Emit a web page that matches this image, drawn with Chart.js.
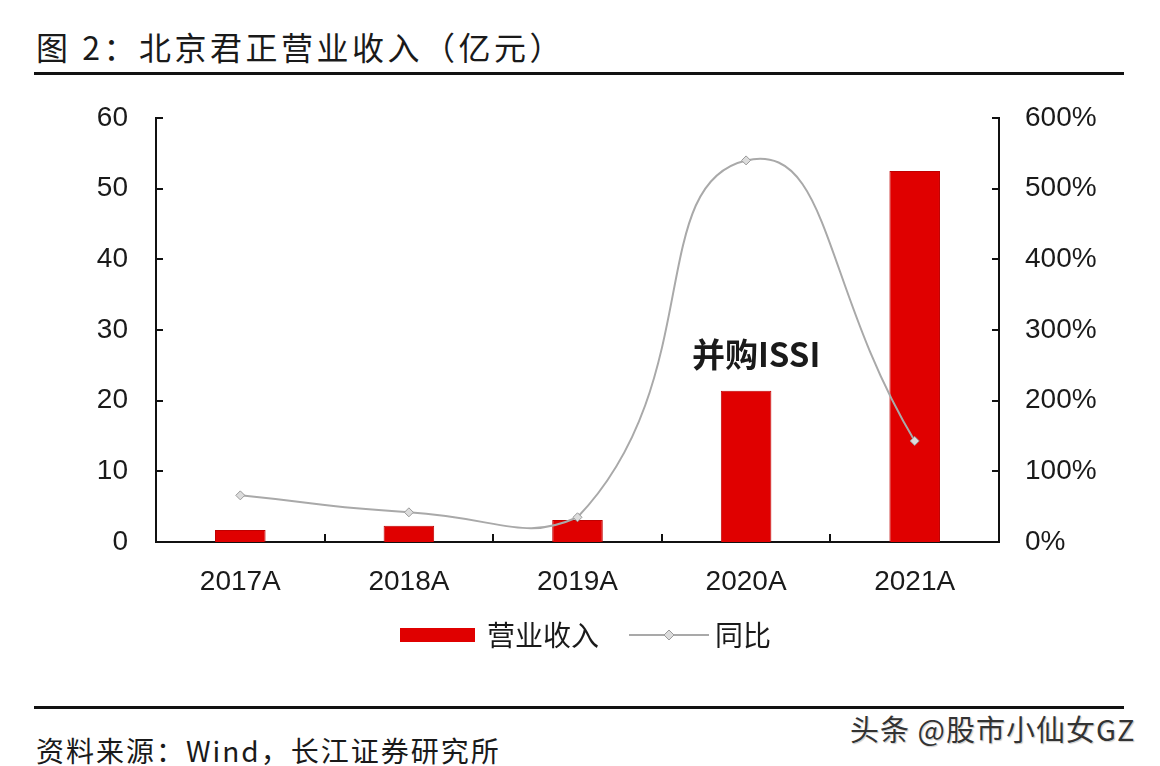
<!DOCTYPE html>
<html lang="zh">
<head>
<meta charset="UTF-8">
<title>北京君正营业收入</title>
<script src="https://cdn.jsdelivr.net/npm/chart.js@4.4.0/dist/chart.umd.min.js"></script>
<style>
    body{ margin:0; background:#fff; width:1160px; height:766px; position:relative; overflow:hidden;
          font-family:"Noto Sans CJK SC","Liberation Sans",sans-serif; color:#1a1a1a; }
    #title{ position:absolute; left:36px; top:24px; font-size:32px; line-height:44px; letter-spacing:3.5px; white-space:pre; }
    .rule{ position:absolute; left:34px; width:1090px; height:3px; background:#111; }
    #board{ position:absolute; left:0; top:90px; width:1160px; height:590px; }
    #source{ position:absolute; left:36px; top:730px; font-size:28px; line-height:40px; letter-spacing:2px; white-space:pre; }
    #mark{ position:absolute; left:850px; top:710px; font-size:29px; line-height:36px; letter-spacing:1px; color:#333;
           text-shadow:0 0 2px #fff, 1px 1px 1px #bbb; white-space:pre; }
</style>
</head>
<body>
<div id="title">图 2：北京君正营业收入（亿元）</div>
<div class="rule" style="top:72px"></div>
<div id="board"><canvas id="chart1"></canvas></div>
<div class="rule" style="top:706px"></div>
<div id="source">资料来源：Wind，长江证券研究所</div>
<div id="mark">头条 @股市小仙女GZ</div>
<script>
    const years = ['2017A','2018A','2019A','2020A','2021A'];
    const revenue = [1.7, 2.3, 3.1, 21.4, 52.5];      // 营业收入（亿元）
    const yoy = [66, 42, 35, 540, 143];               // 同比（%）
    const leftTicks = [0,10,20,30,40,50,60];
    const rightTicks = [0,100,200,300,400,500,600];
    const note = '并购ISSI';

    const numFont = {family:"'Liberation Sans','Noto Sans CJK SC',sans-serif", size:28};
    const cnFont = "'Noto Sans CJK SC','Liberation Sans',sans-serif";

    // 刻度线朝内画
    const innerTicks = {
        id:'innerTicks',
        afterDatasetsDraw(chart){
            const c = chart.ctx, a = chart.chartArea, s = chart.scales;
            c.save();
            c.strokeStyle = '#111'; c.lineWidth = 2;
            c.beginPath();
            s.y.ticks.forEach((t,i)=>{ const p = Math.round(s.y.getPixelForTick(i)); c.moveTo(a.left, p); c.lineTo(a.left+7, p); });
            s.y1.ticks.forEach((t,i)=>{ const p = Math.round(s.y1.getPixelForTick(i)); c.moveTo(a.right, p); c.lineTo(a.right-7, p); });
            for(let i=0;i<years.length-1;i++){
                const p = Math.round((s.x.getPixelForValue(i)+s.x.getPixelForValue(i+1))/2);
                c.moveTo(p, a.bottom); c.lineTo(p, a.bottom-8);
            }
            c.stroke();
            // 注释文字
            c.fillStyle = '#1a1a1a';
            c.font = 'bold 33px ' + cnFont;
            c.textAlign = 'center'; c.textBaseline = 'middle';
            c.fillText(note, s.x.getPixelForValue(3)+10, s.y.getPixelForValue(26.5));
            c.restore();
        }
    };

    // 底部图例
    const bottomLegend = {
        id:'bottomLegend',
        afterDraw(chart){
            const c = chart.ctx, ds = chart.data.datasets;
            const cy = chart.chartArea.bottom + 93;
            let x = 400;
            c.save();
            c.font = '28px ' + cnFont;
            c.textBaseline = 'middle';
            // bar
            c.fillStyle = ds[1].backgroundColor;
            c.fillRect(x, cy-7, 75, 14);
            c.fillStyle = '#1a1a1a';
            c.fillText(ds[1].label, x+87, cy);
            x = x + 87 + c.measureText(ds[1].label).width + 30;
            // line
            c.strokeStyle = ds[0].borderColor; c.lineWidth = 2;
            c.beginPath(); c.moveTo(x, cy); c.lineTo(x+80, cy); c.stroke();
            c.fillStyle = ds[0].pointBackgroundColor; c.strokeStyle = ds[0].pointBorderColor; c.lineWidth = 1;
            c.beginPath(); c.moveTo(x+40, cy-5); c.lineTo(x+45, cy); c.lineTo(x+40, cy+5); c.lineTo(x+35, cy); c.closePath();
            c.fill(); c.stroke();
            c.fillStyle = '#1a1a1a';
            c.fillText(ds[0].label, x+86, cy);
            c.restore();
        }
    };

    const ctx = document.getElementById('chart1').getContext('2d');
    new Chart(ctx,{
        data:{
            labels:years,
            datasets:[{
                type:'line',
                label:'同比',
                data:yoy,
                yAxisID:'y1',
                borderColor:'#a9a9a9',
                borderWidth:2,
                tension:0.55,
                pointStyle:'rectRot',
                pointRadius:4.5,
                pointBackgroundColor:'#dcdcdc',
                pointBorderColor:'#9a9a9a',
                pointBorderWidth:1,
                order:0
            },{
                type:'bar',
                label:'营业收入',
                data:revenue,
                yAxisID:'y',
                backgroundColor:'#e00000',
                borderColor:'#c00000',
                borderWidth:1,
                barPercentage:0.3,
                categoryPercentage:1,
                order:1
            }]
        },
        options:{
            responsive:true,
            maintainAspectRatio:false,
            animation:false,
            layout:{ padding:{top:28, left:0, right:0, bottom:0} },
            plugins:{ legend:{display:false}, tooltip:{enabled:false} },
            scales:{
                x:{
                    grid:{display:false},
                    border:{display:true, color:'#111', width:2},
                    ticks:{color:'#1a1a1a', font:numFont, padding:15, maxRotation:0},
                    afterFit(s){ s.height = 138; s.paddingLeft = 0; s.paddingRight = 0; }
                },
                y:{
                    position:'left',
                    min:leftTicks[0], max:leftTicks[leftTicks.length-1],
                    grid:{display:false},
                    border:{display:true, color:'#111', width:2},
                    ticks:{stepSize:10, color:'#1a1a1a', font:numFont, padding:20},
                    afterFit(s){ s.width = 156; s.paddingTop = 0; s.paddingBottom = 0; }
                },
                y1:{
                    position:'right',
                    min:rightTicks[0], max:rightTicks[rightTicks.length-1],
                    grid:{display:false},
                    border:{display:true, color:'#111', width:2},
                    ticks:{stepSize:100, color:'#1a1a1a', font:numFont, padding:18, callback:v=>v+'%'},
                    afterFit(s){ s.width = 161; s.paddingTop = 0; s.paddingBottom = 0; }
                }
            }
        },
        plugins:[innerTicks, bottomLegend]
    });
</script>
</body>
</html>
